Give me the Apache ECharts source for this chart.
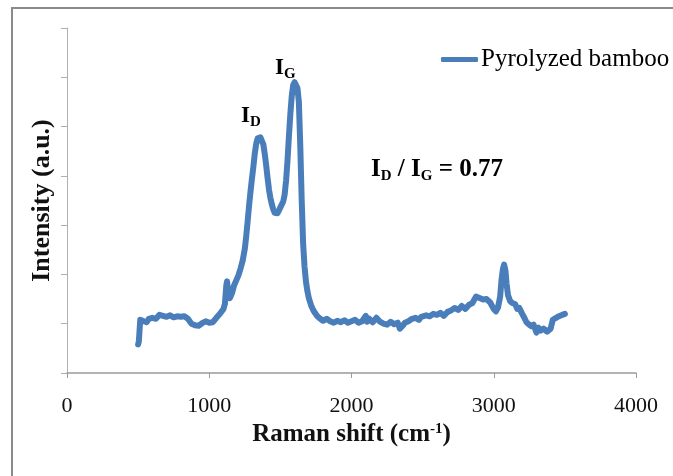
<!DOCTYPE html>
<html>
<head>
<meta charset="utf-8">
<script src="https://cdn.jsdelivr.net/npm/echarts@6/dist/echarts.min.js"></script>
<style>
html,body{margin:0;padding:0;background:#fff;}
#chart{width:673px;height:476px;}
</style>
</head>
<body>
<div id="chart"></div>
<script>
// Raman shift (cm-1)
var shift = [500,505,510,515,525,540,560,575,600,625,650,675,700,725,750,775,800,825,850,875,900,925,950,975,1000,1025,1050,1075,1100,1110,1120,1125,1135,1145,1160,1175,1190,1205,1220,1235,1250,1260,1270,1280,1290,1300,1310,1320,1330,1340,1350,1360,1370,1380,1390,1400,1410,1420,1430,1440,1450,1460,1470,1480,1490,1500,1510,1520,1530,1540,1550,1560,1570,1580,1590,1600,1610,1620,1630,1640,1650,1660,1670,1680,1690,1700,1715,1730,1745,1760,1780,1800,1825,1850,1875,1900,1925,1950,1975,2000,2025,2050,2075,2100,2110,2125,2150,2175,2200,2225,2250,2275,2300,2325,2340,2360,2375,2400,2425,2450,2475,2490,2500,2525,2550,2575,2600,2625,2650,2675,2700,2725,2750,2775,2800,2825,2850,2875,2900,2925,2950,2975,3000,3015,3030,3045,3055,3065,3073,3082,3090,3100,3115,3130,3150,3165,3180,3200,3215,3230,3250,3265,3280,3300,3315,3330,3350,3375,3400,3415,3425,3450,3475,3500];
// Intensity (a.u.)
var intensity = [0.58,0.64,0.86,1.08,1.12,1.05,1.03,1.10,1.12,1.10,1.18,1.16,1.14,1.17,1.13,1.15,1.14,1.15,1.10,1.00,0.97,0.96,1.01,1.05,1.02,1.03,1.12,1.20,1.30,1.40,1.78,1.86,1.62,1.52,1.62,1.78,1.88,1.98,2.12,2.28,2.52,2.78,3.08,3.40,3.68,3.94,4.18,4.45,4.65,4.76,4.80,4.78,4.74,4.64,4.45,4.22,3.96,3.72,3.55,3.42,3.32,3.25,3.28,3.24,3.30,3.36,3.40,3.48,3.62,3.90,4.30,4.80,5.25,5.62,5.84,5.90,5.88,5.78,5.50,4.60,3.50,2.62,2.15,1.85,1.66,1.52,1.38,1.28,1.21,1.15,1.10,1.06,1.10,1.05,1.02,1.06,1.03,1.07,1.02,1.05,1.08,1.02,1.05,1.16,1.04,1.10,1.03,1.12,1.04,1.00,0.98,1.04,0.99,1.02,0.90,0.96,1.02,1.05,1.10,1.12,1.08,1.14,1.10,1.17,1.15,1.20,1.18,1.22,1.16,1.24,1.27,1.32,1.28,1.36,1.30,1.38,1.42,1.55,1.52,1.49,1.50,1.43,1.30,1.25,1.33,1.55,1.90,2.12,2.20,2.08,1.82,1.58,1.46,1.42,1.40,1.30,1.32,1.20,1.12,1.03,0.98,0.95,0.98,0.82,0.92,0.86,0.90,0.84,0.90,1.08,1.12,1.14,1.17,1.20];
var xTicks = [0,1000,2000,3000,4000];
var seriesName = 'Pyrolyzed bamboo';
var xTitle = 'Raman shift (cm';
var yTitle = 'Intensity (a.u.)';

var serif = '"Liberation Serif","Times New Roman",serif';
var data = shift.map(function(s,i){return [s,intensity[i]];});

var chart = echarts.init(document.getElementById('chart'));
chart.setOption({
  animation:false,
  backgroundColor:'#fff',
  grid:{left:67,right:37,top:28,bottom:103},
  legend:{
    left:436, top:42,
    icon:'roundRect', itemWidth:37, itemHeight:5, itemGap:10,
    textStyle:{fontFamily:serif,fontSize:25,color:'#000',padding:[0,0,0,-2]},
    data:[seriesName]
  },
  xAxis:{
    type:'value', min:xTicks[0], max:xTicks[xTicks.length-1], interval:1000,
    axisLine:{lineStyle:{color:'#9a9a9a',width:1.5}},
    axisTick:{show:true,length:5,lineStyle:{color:'#9a9a9a'}},
    splitLine:{show:false},
    axisLabel:{fontFamily:serif,fontSize:22,color:'#111',margin:22,formatter:function(v){return String(v);}},
    name:'{a|'+xTitle+'}{s|-1}{a|)}',
    nameLocation:'middle', nameGap:46,
    nameTextStyle:{rich:{
      a:{fontFamily:serif,fontSize:25,fontWeight:'bold',color:'#111'},
      s:{fontFamily:serif,fontSize:15,fontWeight:'bold',color:'#111',padding:[0,0,11,0]}
    }}
  },
  yAxis:{
    type:'value', min:0, max:7, interval:1,
    axisLine:{show:true,lineStyle:{color:'#b0b0b0',width:1}},
    axisTick:{show:true,length:6,lineStyle:{color:'#b0b0b0'}},
    axisLabel:{show:false},
    splitLine:{show:false},
    name:yTitle, nameLocation:'middle', nameGap:12,
    nameTextStyle:{fontFamily:serif,fontSize:26,fontWeight:'bold',color:'#111'}
  },
  series:[{
    name:seriesName, type:'line', data:data,
    showSymbol:false, symbol:'none', smooth:false,
    lineStyle:{color:'#4a7ebb',width:6,cap:'round',join:'round'},
    itemStyle:{color:'#4a7ebb'}
  }],
  graphic:[
    {type:'rect',shape:{x:12,y:8,width:720,height:520},style:{fill:'none',stroke:'#8a8a8a',lineWidth:2},silent:true},
    {type:'text',x:241,y:116,style:{
      text:'{m|I}{s|D}',align:'left',verticalAlign:'middle',
      rich:{m:{fontFamily:serif,fontSize:23,fontWeight:'bold',fill:'#000'},
            s:{fontFamily:serif,fontSize:15,fontWeight:'bold',fill:'#000',padding:[13,0,0,0]}}}},
    {type:'text',x:275,y:68,style:{
      text:'{m|I}{s|G}',align:'left',verticalAlign:'middle',
      rich:{m:{fontFamily:serif,fontSize:23,fontWeight:'bold',fill:'#000'},
            s:{fontFamily:serif,fontSize:15,fontWeight:'bold',fill:'#000',padding:[13,0,0,0]}}}},
    {type:'text',x:371,y:170,style:{
      text:'{m|I}{s|D}{m| / I}{s|G}{m| = 0.77}',align:'left',verticalAlign:'middle',
      rich:{m:{fontFamily:serif,fontSize:25,fontWeight:'bold',fill:'#000'},
            s:{fontFamily:serif,fontSize:15,fontWeight:'bold',fill:'#000',padding:[13,0,0,0]}}}}
  ]
});
</script>
</body>
</html>
